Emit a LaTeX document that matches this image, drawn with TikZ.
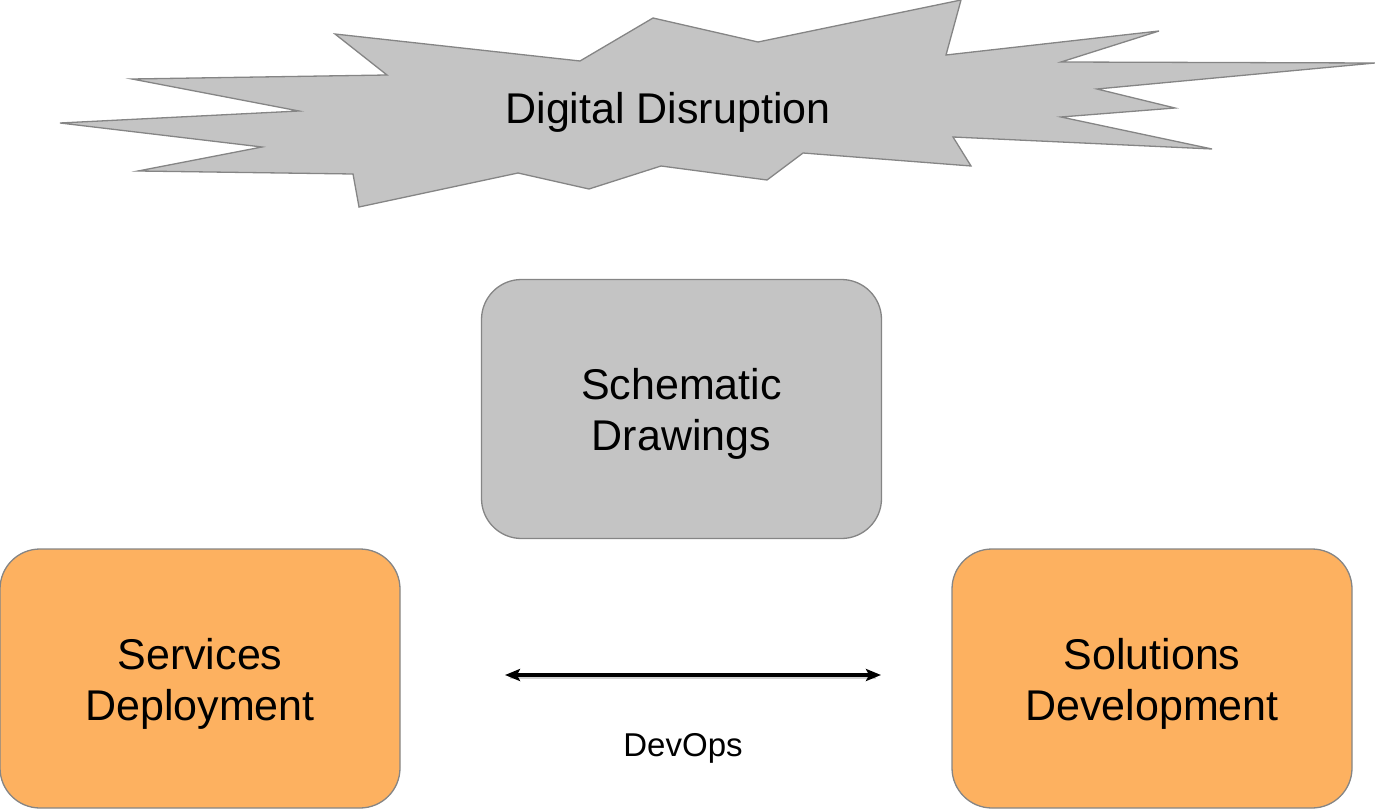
\documentclass[tikz,border=0pt]{standalone}
\usepackage{fontspec}
\setmainfont{Liberation Sans}
\usetikzlibrary{arrows.meta}
\definecolor{burstgray}{HTML}{C4C4C4}
\definecolor{edgegray}{HTML}{858585}
\definecolor{boxorange}{HTML}{FDB160}
\begin{document}
\begin{tikzpicture}[x=1pt,y=-1pt,
  block/.style={draw=edgegray, line width=1.3pt, rounded corners=40pt,
    minimum width=400pt, minimum height=259pt, inner sep=0pt},
  blocktext/.style={align=center, font=\fontsize{43}{51}\selectfont, inner sep=0pt, yshift=-5pt},
  burst/.style={draw=edgegray, line width=1.3pt, fill=burstgray, line join=miter},
  bigtext/.style={font=\fontsize{43}{51}\selectfont},
  link/.style={line width=3.2pt, {Stealth[length=15pt,width=12pt,inset=3pt]}-{Stealth[length=15pt,width=12pt,inset=3pt]}},
  linkshadow/.style={line width=3.5pt, black!35, opacity=0.5}
]
\useasboundingbox (0,0) rectangle (1375,810);

% jagged burst shape
\draw[burst]
  (335,34) -- (387,75) -- (132,79) -- (299,111) -- (60,123) -- (262,147)
  -- (138,171) -- (353,174) -- (359,207) -- (518,173) -- (589,189)
  -- (661,166) -- (767,180) -- (803,153) -- (971,166) -- (953,137)
  -- (1212,149) -- (1061,117) -- (1175,108) -- (1097,89) -- (1375,63)
  -- (1061,62) -- (1159,31) -- (946,55) -- (961,0) -- (758,42)
  -- (653,18) -- (580,61) -- cycle;
\node[bigtext] (disrupt) at (668,112) {Digital Disruption};

% boxes
\node[block, fill=burstgray] (schem) at (681.5,409) {};
\node[blocktext] (schemtext) at (schem.center) {Schematic\\Drawings};
\node[block, fill=boxorange] (serv) at (200,678.5) {};
\node[blocktext] (servtext) at (serv.center) {Services\\Deployment};
\node[block, fill=boxorange] (sol) at (1152,678.5) {};
\node[blocktext] (soltext) at (sol.center) {Solutions\\Development};

% DevOps double arrow
\coordinate (devL) at (505,675);
\coordinate (devR) at (881,675);
\coordinate (devLs) at (510,677.5);
\coordinate (devRs) at (876,677.5);
\draw[linkshadow] (devLs) -- (devRs);
\draw[link] (devL) -- (devR);
\node[font=\fontsize{33}{40}\selectfont] (devops) at (683,748) {DevOps};
\end{tikzpicture}
\end{document}
